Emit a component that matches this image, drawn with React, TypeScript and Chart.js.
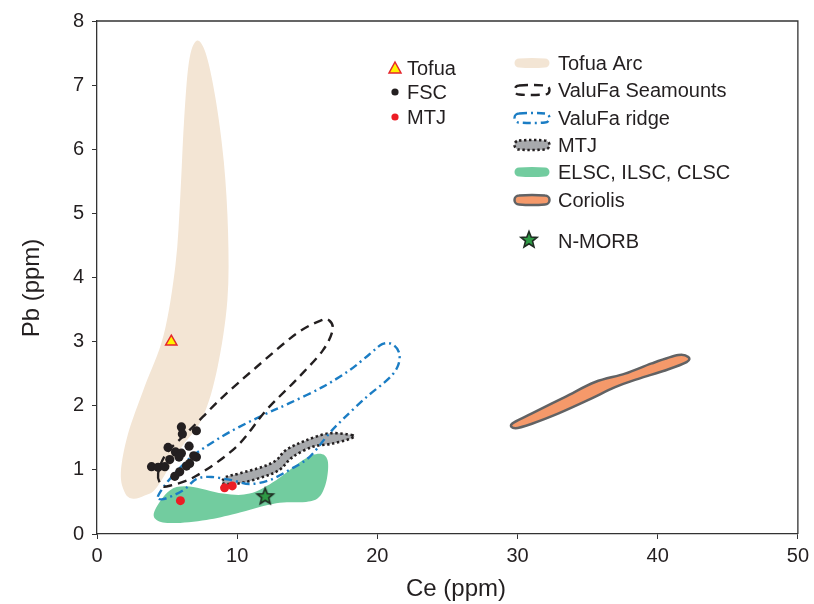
import React, { useEffect, useRef } from "react";
import { Chart, registerables } from "chart.js";

Chart.register(...registerables);

// Axis ticks (ppm)
const ceTicks = [0, 10, 20, 30, 40, 50];
const pbTicks = [0, 1, 2, 3, 4, 5, 6, 7, 8];

// Sample analyses: Ce vs Pb (ppm)
const tofuaCe = [5.3];
const tofuaPb = [3.0];
const fscCe = [6.02, 6.09, 7.09, 6.57, 5.07, 5.6, 6.02, 5.19, 5.85, 7.09, 6.61, 6.38, 3.89, 4.36, 4.84, 5.9, 5.55, 6.9];
const fscPb = [1.67, 1.56, 1.61, 1.37, 1.35, 1.28, 1.26, 1.16, 1.2, 1.2, 1.1, 1.06, 1.05, 1.04, 1.05, 0.97, 0.9, 1.22];
const mtjCe = [5.95, 9.1, 9.65];
const mtjPb = [0.52, 0.72, 0.75];
const nmorbCe = [12.0];
const nmorbPb = [0.59];

// Compositional fields, outlined as [Ce, Pb] vertices
const tofuaArcField: [number, number][] = [
  [7.09, 7.69], [6.55, 7.35], [6.2, 6.4], [5.95, 5.3], [5.6, 4.2], [4.75, 3.1],
  [3.4, 2.3], [2.2, 1.55], [1.7, 0.95], [2.0, 0.64], [2.58, 0.55], [3.4, 0.6],
  [4.27, 0.73], [5.9, 1.31], [7.54, 1.82], [8.6, 2.6], [9.3, 3.64], [9.35, 4.7],
  [9.05, 5.8], [8.45, 6.8], [7.75, 7.5],
];
const seamountsField: [number, number][] = [
  [4.36, 0.945], [4.6, 0.763], [5.19, 0.752], [7.09, 0.907], [9.94, 1.36],
  [12.07, 1.93], [14.2, 2.4], [16.1, 2.86], [16.81, 3.18], [16.57, 3.33],
  [15.98, 3.33], [14.2, 3.12], [11.36, 2.6], [8.98, 2.14], [7.56, 1.83],
  [6.38, 1.57], [4.96, 1.26],
];
const ridgeField: [number, number][] = [
  [4.34, 0.58], [4.84, 0.76], [5.62, 0.96], [6.61, 1.18], [7.68, 1.35],
  [9.46, 1.59], [11.81, 1.85], [13.73, 2.04], [16.07, 2.29], [17.99, 2.55],
  [19.42, 2.8], [20.34, 2.96], [21.05, 2.96], [21.55, 2.83], [21.48, 2.63],
  [20.84, 2.43], [19.2, 2.13], [17.64, 1.81], [16.57, 1.57], [15.15, 1.2],
  [13.73, 1.0], [12.3, 0.84], [10.88, 0.78], [9.6, 0.84], [8.18, 0.89],
  [7.11, 0.86], [6.26, 0.7], [5.33, 0.59], [4.62, 0.54],
];
const mtjField: [number, number][] = [
  [18.23, 1.54], [16.57, 1.57], [14.91, 1.46], [13.49, 1.31], [12.78, 1.15],
  [11.83, 1.05], [10.17, 0.945], [9.22, 0.89], [8.98, 0.79], [10.17, 0.79],
  [11.83, 0.89], [13.02, 1.0], [13.96, 1.2], [15.38, 1.36], [16.81, 1.41],
  [18.11, 1.49],
];
const lauField: [number, number][] = [
  [4.13, 0.37], [5.19, 0.68], [6.61, 0.74], [8.98, 0.63], [10.88, 0.63],
  [12.78, 0.84], [14.67, 1.15], [15.86, 1.25], [16.45, 1.15], [16.38, 0.84],
  [15.86, 0.58], [14.91, 0.5], [12.78, 0.48], [9.94, 0.32], [7.8, 0.22],
  [5.43, 0.17], [4.25, 0.22],
];
const coriolisField: [number, number][] = [
  [29.61, 1.72], [31.03, 1.88], [33.41, 2.14], [35.54, 2.37], [37.67, 2.5],
  [39.57, 2.66], [41.47, 2.79], [42.18, 2.76], [42.06, 2.68], [40.52, 2.55],
  [38.62, 2.42], [36.96, 2.29], [35.06, 2.09], [32.93, 1.88], [31.03, 1.72],
  [29.85, 1.65],
];

const FONT = '"Liberation Sans", Arial, Helvetica, sans-serif';
const INK = "#231f20";

type FieldStyle = { fill?: string; stroke?: string; width?: number; dash?: number[] };

const styles: Record<string, FieldStyle> = {
  tofuaArc: { fill: "#f3e5d4" },
  seamounts: { stroke: "#231f20", width: 2.4, dash: [9, 6] },
  ridge: { stroke: "#1b7dc4", width: 2.4, dash: [8, 4, 2, 4] },
  mtj: { fill: "#a7a9ac", stroke: "#231f20", width: 2.6, dash: [2.4, 2.6] },
  lau: { fill: "#72cc9f" },
  coriolis: { fill: "#f5996a", stroke: "#616264", width: 2.5 },
};

const toPts = (f: [number, number][]) => f.map(([x, y]) => ({ x, y }));

function smoothClosed(ctx: CanvasRenderingContext2D, pts: { x: number; y: number }[]) {
  const n = pts.length;
  ctx.moveTo(pts[0].x, pts[0].y);
  for (let i = 0; i < n; i++) {
    const p0 = pts[(i - 1 + n) % n];
    const p1 = pts[i];
    const p2 = pts[(i + 1) % n];
    const p3 = pts[(i + 2) % n];
    ctx.bezierCurveTo(
      p1.x + (p2.x - p0.x) / 6, p1.y + (p2.y - p0.y) / 6,
      p2.x - (p3.x - p1.x) / 6, p2.y - (p3.y - p1.y) / 6,
      p2.x, p2.y
    );
  }
  ctx.closePath();
}

// Legend swatch: a pill with softly bowed long sides
function swatch(ctx: CanvasRenderingContext2D, cx: number, cy: number, w: number, h: number) {
  const r = h / 2;
  const l = cx - w / 2 + r;
  const rt = cx + w / 2 - r;
  ctx.moveTo(l, cy - r);
  ctx.quadraticCurveTo(cx, cy - r - 1, rt, cy - r);
  ctx.arc(rt, cy, r, -Math.PI / 2, Math.PI / 2);
  ctx.quadraticCurveTo(cx, cy + r + 1, l, cy + r);
  ctx.arc(l, cy, r, Math.PI / 2, (3 * Math.PI) / 2);
  ctx.closePath();
}

function paint(ctx: CanvasRenderingContext2D, st: FieldStyle, build: () => void) {
  ctx.save();
  ctx.beginPath();
  build();
  if (st.fill) {
    ctx.fillStyle = st.fill;
    ctx.fill();
  }
  if (st.stroke) {
    ctx.strokeStyle = st.stroke;
    ctx.lineWidth = st.width || 1;
    ctx.setLineDash(st.dash || []);
    ctx.stroke();
  }
  ctx.restore();
}

function starPath(ctx: CanvasRenderingContext2D, cx: number, cy: number, ro: number, ri: number) {
  for (let i = 0; i < 10; i++) {
    const r = i % 2 === 0 ? ro : ri;
    const a = -Math.PI / 2 + (i * Math.PI) / 5;
    const px = cx + r * Math.cos(a);
    const py = cy + r * Math.sin(a);
    if (i === 0) ctx.moveTo(px, py);
    else ctx.lineTo(px, py);
  }
  ctx.closePath();
}

function drawStar(ctx: CanvasRenderingContext2D, cx: number, cy: number) {
  ctx.save();
  ctx.beginPath();
  starPath(ctx, cx, cy, 8.5, 3.7);
  ctx.fillStyle = "#2e9a45";
  ctx.fill();
  ctx.lineWidth = 1.6;
  ctx.lineJoin = "miter";
  ctx.strokeStyle = "#1f2b22";
  ctx.stroke();
  ctx.restore();
}

function makeStarImage() {
  const c = document.createElement("canvas");
  c.width = 22;
  c.height = 22;
  const g = c.getContext("2d")!;
  drawStar(g, 11, 11.5);
  return c;
}

const fieldsPlugin = {
  id: "fields",
  beforeDatasetsDraw(chart: any) {
    const { ctx, chartArea, scales } = chart;
    ctx.save();
    ctx.beginPath();
    ctx.rect(chartArea.left, chartArea.top, chartArea.right - chartArea.left, chartArea.bottom - chartArea.top);
    ctx.clip();
    chart.data.datasets.forEach((ds: any) => {
      if (!ds.fieldKey) return;
      const pts = ds.data.map((p: any) => ({
        x: scales.x.getPixelForValue(p.x),
        y: scales.y.getPixelForValue(p.y),
      }));
      paint(ctx, styles[ds.fieldKey], () => smoothClosed(ctx, pts));
    });
    ctx.restore();
  },
  afterDraw(chart: any) {
    const { ctx, chartArea } = chart;
    // frame: top and right edges
    ctx.save();
    ctx.strokeStyle = "#333";
    ctx.lineWidth = 1.3;
    ctx.beginPath();
    ctx.moveTo(chartArea.left, chartArea.top);
    ctx.lineTo(chartArea.right, chartArea.top);
    ctx.lineTo(chartArea.right, chartArea.bottom);
    ctx.stroke();

    // axis titles
    ctx.fillStyle = INK;
    ctx.font = `24px ${FONT}`;
    ctx.textAlign = "center";
    ctx.textBaseline = "middle";
    ctx.fillText("Ce (ppm)", 456, 589);
    ctx.save();
    ctx.translate(32, 288);
    ctx.rotate(-Math.PI / 2);
    ctx.fillText("Pb (ppm)", 0, 0);
    ctx.restore();

    // legend
    ctx.font = `20px ${FONT}`;
    ctx.textAlign = "left";
    ctx.textBaseline = "alphabetic";
    const cap = 7;
    // sample symbols
    ctx.save();
    ctx.beginPath();
    ctx.moveTo(395, 62);
    ctx.lineTo(401, 73);
    ctx.lineTo(389, 73);
    ctx.closePath();
    ctx.fillStyle = "#fff200";
    ctx.fill();
    ctx.strokeStyle = "#e5262c";
    ctx.lineWidth = 1.5;
    ctx.stroke();
    ctx.beginPath();
    ctx.arc(395, 92, 3.6, 0, Math.PI * 2);
    ctx.fillStyle = INK;
    ctx.fill();
    ctx.beginPath();
    ctx.arc(395, 117, 3.6, 0, Math.PI * 2);
    ctx.fillStyle = "#ec1c24";
    ctx.fill();
    ctx.restore();
    ctx.fillStyle = INK;
    ctx.fillText("Tofua", 407, 68 + cap);
    ctx.fillText("FSC", 407, 92 + cap);
    ctx.fillText("MTJ", 407, 117 + cap);

    const rows: [string, string, number][] = [
      ["tofuaArc", "Tofua Arc", 63],
      ["seamounts", "ValuFa Seamounts", 90],
      ["ridge", "ValuFa ridge", 118],
      ["mtj", "MTJ", 145],
      ["lau", "ELSC, ILSC, CLSC", 172],
      ["coriolis", "Coriolis", 200],
    ];
    rows.forEach(([key, label, y]) => {
      paint(ctx, styles[key], () => swatch(ctx, 532, y, 35, 9));
      ctx.fillStyle = INK;
      ctx.fillText(label, 558, y + cap);
    });
    drawStar(ctx, 529, 240);
    ctx.fillStyle = INK;
    ctx.fillText("N-MORB", 558, 241 + cap);
    ctx.restore();
  },
};

const zip = (xs: number[], ys: number[]) => xs.map((x, i) => ({ x, y: ys[i] }));

export default function App() {
  const ref = useRef<HTMLCanvasElement | null>(null);

  useEffect(() => {
    document.body.style.margin = "0";
    const canvas = ref.current;
    if (!canvas) return;
    const star = makeStarImage();
    const field = (key: string, f: [number, number][]) => ({
      label: key,
      fieldKey: key,
      data: toPts(f),
      pointRadius: 0,
      showLine: false,
    });
    const chart = new Chart(canvas, {
      type: "scatter",
      data: {
        datasets: [
          field("tofuaArc", tofuaArcField),
          field("lau", lauField),
          field("mtj", mtjField),
          field("coriolis", coriolisField),
          field("ridge", ridgeField),
          field("seamounts", seamountsField),
          {
            label: "FSC",
            data: zip(fscCe, fscPb),
            pointRadius: 4.6,
            backgroundColor: INK,
            borderColor: INK,
            borderWidth: 0,
          },
          {
            label: "MTJ",
            data: zip(mtjCe, mtjPb),
            pointRadius: 4.5,
            backgroundColor: "#ec1c24",
            borderColor: "#ec1c24",
            borderWidth: 0,
          },
          {
            label: "Tofua",
            data: zip(tofuaCe, tofuaPb),
            pointStyle: "triangle",
            pointRadius: 6.5,
            backgroundColor: "#fff200",
            borderColor: "#e5262c",
            borderWidth: 1.5,
          },
          {
            label: "N-MORB",
            data: zip(nmorbCe, nmorbPb),
            pointStyle: star as any,
            pointRadius: 9,
          },
        ] as any,
      },
      options: {
        responsive: false,
        animation: false,
        events: [],
        layout: { padding: { left: 0, top: 21, right: 14, bottom: 0 } },
        plugins: { legend: { display: false }, tooltip: { enabled: false } },
        scales: {
          x: {
            type: "linear",
            min: 0,
            max: 50,
            afterBuildTicks: (s: any) => {
              s.ticks = ceTicks.map((v) => ({ value: v }));
            },
            afterFit: (s: any) => {
              s.height = 70;
            },
            grid: { drawOnChartArea: false, drawTicks: true, tickLength: 5, color: "#333", lineWidth: 1 },
            border: { color: "#333", width: 1.3 },
            ticks: { color: INK, font: { family: FONT, size: 20 }, padding: 5, maxRotation: 0 },
          },
          y: {
            type: "linear",
            min: 0,
            max: 8,
            afterBuildTicks: (s: any) => {
              s.ticks = pbTicks.map((v) => ({ value: v }));
            },
            afterFit: (s: any) => {
              s.width = 97;
            },
            grid: { drawOnChartArea: false, drawTicks: true, tickLength: 5, color: "#333", lineWidth: 1 },
            border: { color: "#333", width: 1.3 },
            ticks: { color: INK, font: { family: FONT, size: 20 }, padding: 8 },
          },
        },
      } as any,
      plugins: [fieldsPlugin],
    });
    return () => chart.destroy();
  }, []);

  return (
    <div style={{ width: 814, height: 604, background: "#fff" }}>
      <canvas ref={ref} width={814} height={604} />
    </div>
  );
}
